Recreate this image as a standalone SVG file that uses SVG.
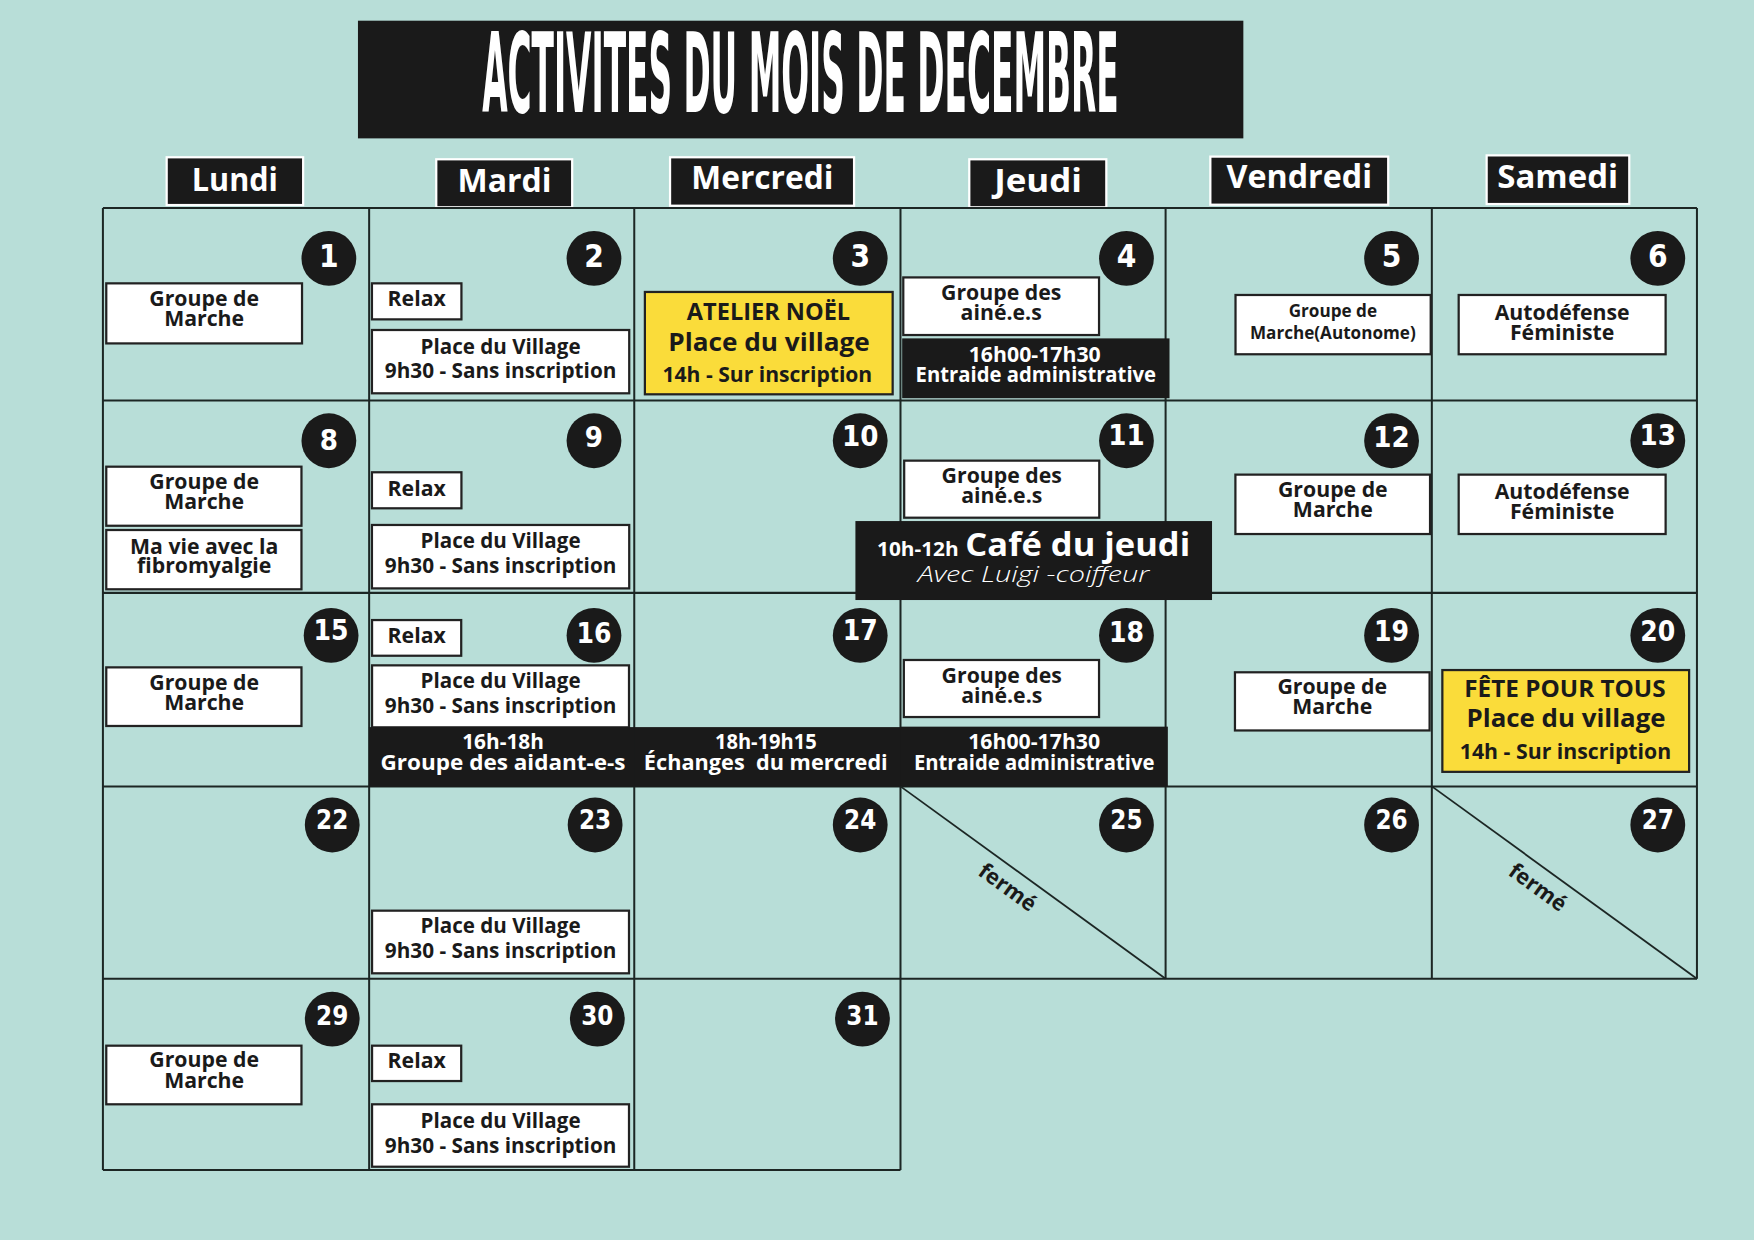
<svg xmlns="http://www.w3.org/2000/svg" width="1754" height="1240" viewBox="0 0 1754 1240">
<style>
.grid line{stroke:#1c2624;stroke-width:1.8}
.box{fill:#fff;stroke:#222;stroke-width:2}
.ybox{fill:#fadc3a;stroke:#222;stroke-width:2}
.blk{fill:#1a1a1a}
.hdr{fill:#1a1a1a;stroke:#fff;stroke-width:2}
.dot{fill:#1a1a1a}
text{font-family:"Open Sans","Noto Sans",sans-serif;font-weight:700;text-anchor:middle;fill:#1a1a1a}
.w{fill:#fff}
.s19{font-size:19px}
.s18{font-size:18.3px}
.s14{font-size:15.3px}
.hd{font-size:28px;fill:#fff}
.num{font-family:"Liberation Sans Narrow","DejaVu Sans Condensed",sans-serif;font-weight:700;fill:#fff}
.n1{font-size:28px}
.n2{font-size:26px}
.n3{font-size:25px}
.n4{font-size:23px}
.diag{stroke:#1c2624;stroke-width:1.6}
</style>
<rect width="1754" height="1240" fill="#b8ded8"/>
<g transform="scale(1.11862)">
<g id="title">
<rect x="320" y="18.5" width="791.5" height="105.2" class="blk"/>
<text transform="translate(715.5 100.4) scale(1 2.45)" x="0" y="0" class="w" style="font-family:'Liberation Sans Narrow','DejaVu Sans Condensed',sans-serif;font-size:40px" textLength="569" lengthAdjust="spacingAndGlyphs">ACTIVITES DU MOIS DE DECEMBRE</text>
</g>
<g id="hdr-lundi"><rect x="149" y="140.6" width="122" height="42.7" class="hdr"/><text x="210" y="170.5" class="hd" textLength="77" lengthAdjust="spacingAndGlyphs">Lundi</text></g>
<g id="hdr-mardi"><rect x="390" y="142.4" width="121.5" height="42.9" class="hdr"/><text x="451" y="171.4" class="hd" textLength="84" lengthAdjust="spacingAndGlyphs">Mardi</text></g>
<g id="hdr-mercredi"><rect x="599" y="140.6" width="164.5" height="43.3" class="hdr"/><text x="681.5" y="169.3" class="hd" textLength="127" lengthAdjust="spacingAndGlyphs">Mercredi</text></g>
<g id="hdr-jeudi"><rect x="866.5" y="142.4" width="122.5" height="42.9" class="hdr"/><text x="928" y="171.4" class="hd" textLength="78.5" lengthAdjust="spacingAndGlyphs">Jeudi</text></g>
<g id="hdr-vendredi"><rect x="1082" y="140" width="159" height="43" class="hdr"/><text x="1161.5" y="168.4" class="hd" textLength="130" lengthAdjust="spacingAndGlyphs">Vendredi</text></g>
<g id="hdr-samedi"><rect x="1329" y="138.9" width="127.5" height="43.5" class="hdr"/><text x="1392.5" y="167.8" class="hd" textLength="108" lengthAdjust="spacingAndGlyphs">Samedi</text></g>

<g id="grid" class="grid">
<line x1="92" y1="186" x2="1517" y2="186"/>
<line x1="92" y1="358" x2="1517" y2="358"/>
<line x1="92" y1="530" x2="1517" y2="530"/>
<line x1="92" y1="703" x2="1517" y2="703"/>
<line x1="92" y1="875" x2="1517" y2="875"/>
<line x1="92" y1="1046" x2="805" y2="1046"/>
<line x1="92" y1="186" x2="92" y2="1046"/>
<line x1="330" y1="186" x2="330" y2="1046"/>
<line x1="567" y1="186" x2="567" y2="1046"/>
<line x1="805" y1="186" x2="805" y2="1046"/>
<line x1="1042" y1="186" x2="1042" y2="875"/>
<line x1="1280" y1="186" x2="1280" y2="875"/>
<line x1="1517" y1="186" x2="1517" y2="875"/>
</g>

<!-- Row 1 -->
<g id="day-1">
<circle cx="294" cy="231" r="24.5" class="dot"/><text x="294" y="238.5" class="num n1">1</text>
<rect x="95" y="253.3" width="175" height="53.7" class="box"/>
<text x="182.5" y="273.6" class="s19">Groupe de</text><text x="182.5" y="291.4" class="s19">Marche</text>
</g>
<g id="day-2">
<circle cx="531" cy="231" r="24.5" class="dot"/><text x="531" y="238.5" class="num n1">2</text>
<rect x="332.5" y="253.3" width="80" height="32.2" class="box"/><text x="372.5" y="273.6" class="s19">Relax</text>
<rect x="332.5" y="295" width="230" height="56.6" class="box"/>
<text x="447.5" y="316.5" class="s18" textLength="143" lengthAdjust="spacingAndGlyphs">Place du Village</text><text x="447.5" y="338.2" class="s18" textLength="207" lengthAdjust="spacingAndGlyphs">9h30 - Sans inscription</text>
</g>
<g id="day-3">
<circle cx="769" cy="231" r="24.5" class="dot"/><text x="769" y="238.5" class="num n1">3</text>
<rect x="576.5" y="261" width="221.5" height="91.5" class="ybox"/>
<text x="687" y="286" style="font-size:21px" textLength="146" lengthAdjust="spacingAndGlyphs">ATELIER NOËL</text>
<text x="687.5" y="313.5" style="font-size:23px" textLength="180" lengthAdjust="spacingAndGlyphs">Place du village</text>
<text x="686" y="341.2" style="font-size:18.5px" textLength="187.5" lengthAdjust="spacingAndGlyphs">14h - Sur inscription</text>
</g>
<g id="day-4">
<circle cx="1007" cy="231" r="24.5" class="dot"/><text x="1007" y="238.5" class="num n1">4</text>
<rect x="807.5" y="248" width="175" height="51.5" class="box"/>
<text x="895" y="268" class="s19">Groupe des</text><text x="895" y="286" class="s19">ainé.e.s</text>
<rect x="806.5" y="302.5" width="239" height="53.5" class="blk"/>
<text x="925" y="323.3" class="s18 w" textLength="118" lengthAdjust="spacingAndGlyphs">16h00-17h30</text><text x="926" y="341.2" class="s18 w" textLength="215" lengthAdjust="spacingAndGlyphs">Entraide administrative</text>
</g>
<g id="day-5">
<circle cx="1244" cy="231" r="24.5" class="dot"/><text x="1244" y="238.5" class="num n1">5</text>
<rect x="1104.5" y="263.7" width="174.5" height="53" class="box"/>
<text x="1191.5" y="283.7" class="s14">Groupe de</text><text x="1191.5" y="303.3" class="s14">Marche(Autonome)</text>
</g>
<g id="day-6">
<circle cx="1482" cy="231" r="24.5" class="dot"/><text x="1482" y="238.5" class="num n1">6</text>
<rect x="1304" y="263.7" width="185" height="53" class="box"/>
<text x="1396.5" y="286" class="s19">Autodéfense</text><text x="1396.5" y="304" class="s19">Féministe</text>
</g>

<!-- Row 2 -->
<g id="day-8">
<circle cx="294" cy="394" r="24.5" class="dot"/><text x="294" y="402.5" class="num n2">8</text>
<rect x="95" y="417.2" width="174.5" height="52.8" class="box"/>
<text x="182.5" y="437.2" class="s19">Groupe de</text><text x="182.5" y="455" class="s19">Marche</text>
<rect x="95" y="473.8" width="174.5" height="53" class="box"/>
<text x="182.5" y="495.3" class="s19">Ma vie avec la</text><text x="182.5" y="512.5" class="s19">fibromyalgie</text>
</g>
<g id="day-9">
<circle cx="531" cy="394" r="24.5" class="dot"/><text x="531" y="400" class="num n2">9</text>
<rect x="332.5" y="422.2" width="80" height="32.2" class="box"/><text x="372.5" y="443.1" class="s19">Relax</text>
<rect x="332.5" y="469.3" width="230" height="56.7" class="box"/>
<text x="447.5" y="490.2" class="s18" textLength="143" lengthAdjust="spacingAndGlyphs">Place du Village</text><text x="447.5" y="512" class="s18" textLength="207" lengthAdjust="spacingAndGlyphs">9h30 - Sans inscription</text>
</g>
<g id="day-10">
<circle cx="769" cy="394" r="24.5" class="dot"/><text x="769" y="398.7" class="num n2">10</text>
</g>
<g id="day-11">
<circle cx="1007" cy="394" r="24.5" class="dot"/><text x="1007" y="398" class="num n2">11</text>
<rect x="808.3" y="411.8" width="174.4" height="51" class="box"/>
<text x="895.5" y="432" class="s19">Groupe des</text><text x="895.5" y="450" class="s19">ainé.e.s</text>
</g>
<g id="day-12">
<circle cx="1244" cy="394" r="24.5" class="dot"/><text x="1244" y="400" class="num n2">12</text>
<rect x="1104.4" y="424.3" width="174" height="53.1" class="box"/>
<text x="1191.5" y="444.6" class="s19">Groupe de</text><text x="1191.5" y="462.5" class="s19">Marche</text>
</g>
<g id="day-13">
<circle cx="1482" cy="394" r="24.5" class="dot"/><text x="1482" y="398" class="num n2">13</text>
<rect x="1304" y="424.3" width="185" height="53.1" class="box"/>
<text x="1396.5" y="445.8" class="s19">Autodéfense</text><text x="1396.5" y="463.7" class="s19">Féministe</text>
</g>
<g id="cafe-jeudi">
<rect x="764.7" y="465.8" width="318.8" height="70.6" class="blk"/>
<text x="784" y="496.8" class="w" style="font-size:17px;text-anchor:start" textLength="73" lengthAdjust="spacingAndGlyphs">10h-12h</text>
<text x="863" y="496.8" class="w" style="font-size:29px;text-anchor:start" textLength="201" lengthAdjust="spacingAndGlyphs">Café du jeudi</text>
<text x="820.4" y="520" class="w" style="font-size:20px;font-weight:300;font-style:italic;text-anchor:start" textLength="207" lengthAdjust="spacingAndGlyphs">Avec Luigi -coiffeur</text>
</g>

<!-- Row 3 -->
<g id="day-15">
<circle cx="296" cy="568" r="24.5" class="dot"/><text x="296" y="572" class="num n3">15</text>
<rect x="95" y="596.6" width="174.5" height="52.4" class="box"/>
<text x="182.5" y="616.8" class="s19">Groupe de</text><text x="182.5" y="634.7" class="s19">Marche</text>
</g>
<g id="day-16">
<circle cx="531" cy="568" r="24.5" class="dot"/><text x="531" y="575" class="num n3">16</text>
<rect x="332.6" y="554.3" width="79.7" height="31.9" class="box"/><text x="372.5" y="575.1" class="s19">Relax</text>
<rect x="332.6" y="594.8" width="229.7" height="55.4" class="box"/>
<text x="447.5" y="614.7" class="s18" textLength="143" lengthAdjust="spacingAndGlyphs">Place du Village</text><text x="447.5" y="637.1" class="s18" textLength="207" lengthAdjust="spacingAndGlyphs">9h30 - Sans inscription</text>
<rect x="329.8" y="650" width="237.5" height="53.3" class="blk"/>
<text x="449.7" y="670" class="s18 w" textLength="73" lengthAdjust="spacingAndGlyphs">16h-18h</text><text x="449.7" y="688.4" class="s18 w" textLength="219" lengthAdjust="spacingAndGlyphs">Groupe des aidant-e-s</text>
</g>
<g id="day-17">
<circle cx="769" cy="568" r="24.5" class="dot"/><text x="769" y="572.4" class="num n3">17</text>
<rect x="567" y="650" width="238.5" height="53.3" class="blk"/>
<text x="684.6" y="670" class="s18 w" textLength="91" lengthAdjust="spacingAndGlyphs">18h-19h15</text><text x="684.6" y="688.4" class="s18 w" xml:space="preserve" textLength="218" lengthAdjust="spacingAndGlyphs">Échanges  du mercredi</text>
</g>
<g id="day-18">
<circle cx="1007" cy="568" r="24.5" class="dot"/><text x="1007" y="574" class="num n3">18</text>
<rect x="808" y="590" width="174.5" height="51" class="box"/>
<text x="895.5" y="610.3" class="s19">Groupe des</text><text x="895.5" y="628.2" class="s19">ainé.e.s</text>
<rect x="805" y="649.6" width="239" height="53.7" class="blk"/>
<text x="924.5" y="669.9" class="s18 w" textLength="118" lengthAdjust="spacingAndGlyphs">16h00-17h30</text><text x="924.5" y="688.4" class="s18 w" textLength="215" lengthAdjust="spacingAndGlyphs">Entraide administrative</text>
</g>
<g id="day-19">
<circle cx="1244" cy="568" r="24.5" class="dot"/><text x="1244" y="573" class="num n3">19</text>
<rect x="1104" y="601" width="174" height="52" class="box"/>
<text x="1191" y="620.4" class="s19">Groupe de</text><text x="1191" y="638.3" class="s19">Marche</text>
</g>
<g id="day-20">
<circle cx="1482" cy="568" r="24.5" class="dot"/><text x="1482" y="573" class="num n3">20</text>
<rect x="1289.4" y="599" width="220.6" height="91" class="ybox"/>
<text x="1399" y="622.8" style="font-size:21px" textLength="180" lengthAdjust="spacingAndGlyphs">FÊTE POUR TOUS</text>
<text x="1400" y="650.2" style="font-size:23px" textLength="178" lengthAdjust="spacingAndGlyphs">Place du village</text>
<text x="1399.5" y="678.8" style="font-size:18.5px" textLength="189" lengthAdjust="spacingAndGlyphs">14h - Sur inscription</text>
</g>

<!-- Row 4 -->
<g id="day-22"><circle cx="297" cy="737.5" r="24.5" class="dot"/><text x="297" y="741.5" class="num n4">22</text></g>
<g id="day-23">
<circle cx="532" cy="737.5" r="24.5" class="dot"/><text x="532" y="741.5" class="num n4">23</text>
<rect x="332.6" y="814.1" width="229.7" height="56" class="box"/>
<text x="447.5" y="834.4" class="s18" textLength="143" lengthAdjust="spacingAndGlyphs">Place du Village</text><text x="447.5" y="856.7" class="s18" textLength="207" lengthAdjust="spacingAndGlyphs">9h30 - Sans inscription</text>
</g>
<g id="day-24"><circle cx="769" cy="737.5" r="24.5" class="dot"/><text x="769" y="741.5" class="num n4">24</text></g>
<g id="day-25">
<line x1="805" y1="703" x2="1042" y2="875" class="diag"/>
<circle cx="1007" cy="737.5" r="24.5" class="dot"/><text x="1007" y="741.5" class="num n4">25</text>
<text x="901" y="800" transform="rotate(36 901 793)" style="font-size:19.5px">fermé</text>
</g>
<g id="day-26"><circle cx="1244" cy="737.5" r="24.5" class="dot"/><text x="1244" y="741.5" class="num n4">26</text></g>
<g id="day-27">
<line x1="1280" y1="703" x2="1517" y2="875" class="diag"/>
<circle cx="1482" cy="737.5" r="24.5" class="dot"/><text x="1482" y="741.5" class="num n4">27</text>
<text x="1375" y="800" transform="rotate(36 1375 793)" style="font-size:19.5px">fermé</text>
</g>

<!-- Row 5 -->
<g id="day-29">
<circle cx="297" cy="911" r="24.5" class="dot"/><text x="297" y="916" class="num n4">29</text>
<rect x="95" y="934.8" width="174.5" height="52.4" class="box"/>
<text x="182.5" y="954.2" class="s19">Groupe de</text><text x="182.5" y="973" class="s19">Marche</text>
</g>
<g id="day-30">
<circle cx="534" cy="911" r="24.5" class="dot"/><text x="534" y="916" class="num n4">30</text>
<rect x="332.6" y="934.8" width="79.7" height="31.6" class="box"/><text x="372.5" y="955" class="s19">Relax</text>
<rect x="332.6" y="987.2" width="229.7" height="55.8" class="box"/>
<text x="447.5" y="1008.1" class="s18" textLength="143" lengthAdjust="spacingAndGlyphs">Place du Village</text><text x="447.5" y="1030.5" class="s18" textLength="207" lengthAdjust="spacingAndGlyphs">9h30 - Sans inscription</text>
</g>
<g id="day-31"><circle cx="771" cy="911" r="24.5" class="dot"/><text x="771" y="916" class="num n4">31</text></g>
</g>
</svg>
